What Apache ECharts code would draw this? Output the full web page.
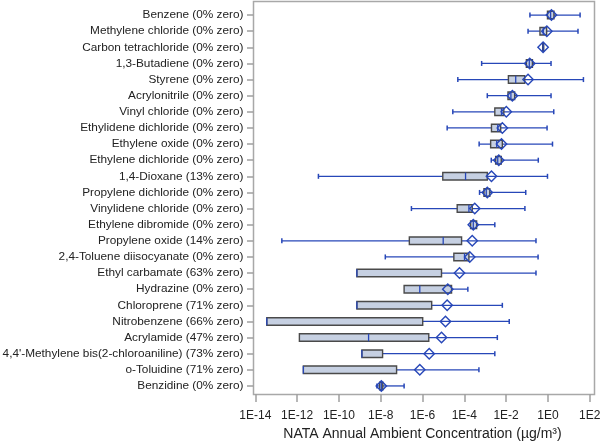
<!DOCTYPE html>
<html>
<head>
<meta charset="utf-8">
<script src="https://cdn.jsdelivr.net/npm/echarts@6/dist/echarts.min.js"></script>
<style>
html,body{margin:0;padding:0;background:#fff;}
#c{width:600px;height:446px;}
</style>
</head>
<body>
<div id="c"></div>
<script>
// Categories (top to bottom)
var categories = [
  "Benzene (0% zero)",
  "Methylene chloride (0% zero)",
  "Carbon tetrachloride (0% zero)",
  "1,3-Butadiene (0% zero)",
  "Styrene (0% zero)",
  "Acrylonitrile (0% zero)",
  "Vinyl chloride (0% zero)",
  "Ethylidene dichloride (0% zero)",
  "Ethylene oxide (0% zero)",
  "Ethylene dichloride (0% zero)",
  "1,4-Dioxane (13% zero)",
  "Propylene dichloride (0% zero)",
  "Vinylidene chloride (0% zero)",
  "Ethylene dibromide (0% zero)",
  "Propylene oxide (14% zero)",
  "2,4-Toluene diisocyanate (0% zero)",
  "Ethyl carbamate (63% zero)",
  "Hydrazine (0% zero)",
  "Chloroprene (71% zero)",
  "Nitrobenzene (66% zero)",
  "Acrylamide (47% zero)",
  "4,4'-Methylene bis(2-chloroaniline) (73% zero)",
  "o-Toluidine (71% zero)",
  "Benzidine (0% zero)"
];
// Values as log10 of concentration (µg/m³)
var logMin    = [-0.86,-0.95,-0.25,-3.17,-4.31,-2.90,-4.55,-4.82,-3.29,-2.71,-10.98,-3.27,-6.53,-3.74,-12.73,-7.78,-9.14,-6.88,-9.14,-13.45,-11.89,-8.90,-11.70,-8.18];
var logQ1     = [-0.02,-0.38,-0.25,-1.03,-1.89,-1.91,-2.54,-2.70,-2.74,-2.50,-5.03,-3.06,-4.34,-3.70,-6.63,-4.50,-9.14,-6.88,-9.14,-13.45,-11.89,-8.90,-11.70,-8.05];
var logMedian = [0.13,-0.22,-0.23,-0.89,-1.54,-1.77,-2.22,-2.40,-2.45,-2.40,-3.94,-2.95,-3.78,-3.57,-5.01,-3.99,-9.14,-6.13,-9.14,-13.45,-8.58,-8.90,-11.70,-7.97];
var logQ3     = [0.29,-0.06,-0.20,-0.74,-1.11,-1.59,-2.11,-2.26,-2.18,-2.23,-2.90,-2.78,-3.62,-3.41,-4.13,-3.78,-5.09,-4.61,-5.56,-5.99,-5.70,-7.91,-7.24,-7.90];
var logMax    = [1.54,1.44,-0.20,0.15,1.70,0.15,0.28,-0.04,0.22,-0.46,-0.02,-1.06,-1.10,-2.54,-0.57,-0.47,-0.57,-3.83,-2.18,-1.85,-2.42,-2.54,-3.30,-6.88];
var logMean   = [0.17,-0.05,-0.23,-0.87,-0.95,-1.70,-1.99,-2.18,-2.22,-2.35,-2.70,-2.90,-3.50,-3.57,-3.62,-3.74,-4.23,-4.79,-4.82,-4.90,-5.09,-5.68,-6.13,-7.97];
var tickExponents = [-14,-12,-10,-8,-6,-4,-2,0,2];

function p10(v){ return Math.pow(10, v); }
var data = categories.map(function(c, i){
  return [i, p10(logMin[i]), p10(logQ1[i]), p10(logMedian[i]), p10(logQ3[i]), p10(logMax[i]), p10(logMean[i])];
});

var chart = echarts.init(document.getElementById('c'), null, {renderer:'canvas'});
var blue = '#2747b8';
var option = {
  animation: false,
  grid: { left: 255.3, right: 10.3, top: 7, bottom: 52, containLabel: false, outerBoundsMode: 'none' },
  xAxis: {
    type: 'log', logBase: 10, min: p10(tickExponents[0]), max: p10(tickExponents[tickExponents.length-1]), interval: 2,
    name: 'NATA Annual Ambient Concentration (µg/m³)',
    nameLocation: 'middle', nameGap: 33,
    nameTextStyle: { fontFamily: 'Liberation Sans, Arial', fontSize: 14, color: '#222' },
    axisLine: { show: false },
    axisTick: { show: true, length: 8, lineStyle: { color: '#a0a0a0', width: 1.5 } },
    minorTick: { show: false },
    splitLine: { show: false },
    axisLabel: {
      margin: 16,
      fontFamily: 'Liberation Sans, Arial', fontSize: 12, color: '#222',
      formatter: function(v){ return '1E' + Math.round(Math.log10(v)); }
    }
  },
  yAxis: {
    type: 'category', data: categories, inverse: true, offset: 1.8,
    axisLine: { show: false },
    axisTick: { show: true, length: 6.5, alignWithLabel: true, lineStyle: { color: '#a0a0a0', width: 1.5 } },
    axisLabel: { margin: 10, fontFamily: 'Liberation Sans, Arial', fontSize: 11.8, color: '#222' },
    splitLine: { show: false }
  },
  graphic: [{
    type: 'rect', silent: true, z: 0,
    shape: { x: 253.5, y: 1.5, width: 341, height: 393 },
    style: { fill: 'none', stroke: '#a8a8a8', lineWidth: 1.5 }
  }],
  series: [{
    type: 'custom',
    data: data,
    encode: { x: [1,2,3,4,5,6], y: 0 },
    renderItem: function(params, api){
      var ci = api.value(0);
      var pMin = api.coord([api.value(1), ci]);
      var pQ1 = api.coord([api.value(2), ci]);
      var pMed = api.coord([api.value(3), ci]);
      var pQ3 = api.coord([api.value(4), ci]);
      var pMax = api.coord([api.value(5), ci]);
      var pMean = api.coord([api.value(6), ci]);
      var y = pMin[1];
      var bh = 7.5, ch = 5, d = 5.2;
      var children = [];
      children.push({ type:'line', shape:{x1:pMin[0], y1:y, x2:pMax[0], y2:y}, style:{stroke:blue, lineWidth:1.3} });
      if (pQ1[0] - pMin[0] > 1) children.push({ type:'line', shape:{x1:pMin[0], y1:y-ch/2, x2:pMin[0], y2:y+ch/2}, style:{stroke:blue, lineWidth:1.5} });
      if (pMax[0] - pQ3[0] > 1) children.push({ type:'line', shape:{x1:pMax[0], y1:y-ch/2, x2:pMax[0], y2:y+ch/2}, style:{stroke:blue, lineWidth:1.5} });
      children.push({ type:'rect', shape:{x:pQ1[0], y:y-bh/2, width:Math.max(pQ3[0]-pQ1[0],1), height:bh}, style:{fill:'#c6d0e2', stroke:'#4a4a4a', lineWidth:1.4} });
      children.push({ type:'line', shape:{x1:pMed[0], y1:y-bh/2, x2:pMed[0], y2:y+bh/2}, style:{stroke:blue, lineWidth:1.3} });
      children.push({ type:'polygon', shape:{points:[[pMean[0]-d,y],[pMean[0],y-d],[pMean[0]+d,y],[pMean[0],y+d]]}, style:{fill:'none', stroke:blue, lineWidth:1.4} });
      return { type:'group', children: children };
    }
  }]
};
chart.setOption(option);
</script>
</body>
</html>
